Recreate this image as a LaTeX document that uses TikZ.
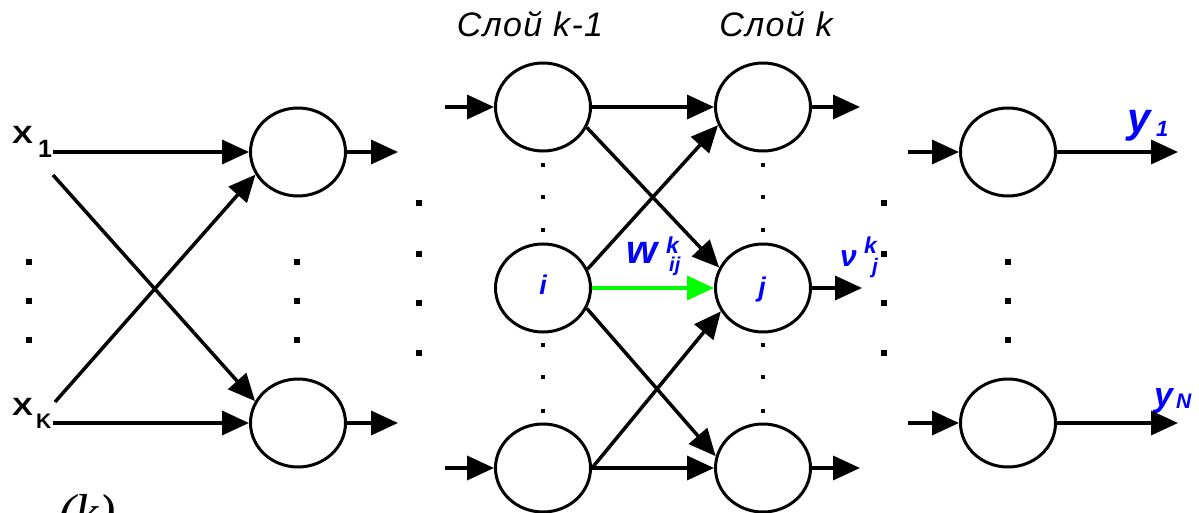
\documentclass[tikz,border=0pt]{standalone}
\usepackage{fontspec}
\setmainfont{Liberation Sans}
\newfontfamily\serifit{Liberation Serif}
\usetikzlibrary{arrows.meta,shapes.geometric}
\definecolor{lgreen}{RGB}{0,255,0}
\definecolor{lblue}{RGB}{0,0,255}
\begin{document}
\begin{tikzpicture}[x=1pt,y=-1pt,
  neuron/.style={ellipse,draw,line width=3pt,minimum width=95pt,minimum height=88pt,inner sep=0pt},
  conn/.style={line width=3.5pt,-{Triangle[length=27pt,width=24pt]}},
  bigdot/.style={fill=black,minimum size=6pt,inner sep=0pt},
  smalldot/.style={fill=black,minimum size=3.5pt,inner sep=0pt},
  lbl/.style={inner sep=0pt,text=lblue},
  blk/.style={inner sep=0pt}
]
\useasboundingbox (0,0) rectangle (1199,513);
% neurons
\node[neuron] (a1) at (298,152) {};
\node[neuron] (a2) at (298,423) {};
\node[neuron] (p1) at (543,107) {};
\node[neuron] (p2) at (543,288) {};
\node[neuron] (p3) at (543,468) {};
\node[neuron] (q1) at (763,107) {};
\node[neuron] (q2) at (763,288) {};
\node[neuron] (q3) at (763,468) {};
\node[neuron] (r1) at (1008,152) {};
\node[neuron] (r2) at (1008,423) {};
% labels
\node[blk,anchor=base] (t1) at (530,37) {\fontsize{34}{34}\selectfont\itshape\addfontfeature{LetterSpace=4} Слой k-1};
\node[blk,anchor=base] (t2) at (776,37) {\fontsize{34}{34}\selectfont\itshape\addfontfeature{LetterSpace=4} Слой k};
\node[blk,anchor=base west] (xa) at (12,144) {\fontsize{25}{25}\selectfont\bfseries\scalebox{1.25}[1]{X}\hspace{5pt}\raisebox{-14pt}{1}};
\node[blk,anchor=base west] (xb) at (12,415) {\fontsize{25}{25}\selectfont\bfseries\scalebox{1.25}[1]{X}\hspace{3pt}\raisebox{-13pt}{\fontsize{21}{21}\selectfont K}};
\node[lbl,anchor=base] (li) at (543,294) {\fontsize{27}{27}\selectfont\bfseries\itshape i};
\node[lbl,anchor=base] (lj) at (762,296) {\fontsize{27}{27}\selectfont\bfseries\itshape j};
\node[lbl,anchor=base west] (lw) at (626,263) {\fontsize{40}{40}\selectfont\bfseries\itshape w};
\node[lbl,anchor=base west] (lwk) at (666,253) {\fontsize{23}{23}\selectfont\bfseries\itshape k};
\node[lbl,anchor=base west] (lwij) at (669,271) {\fontsize{20}{20}\selectfont\bfseries\itshape ij};
\node[lbl,anchor=base west] (lv) at (840,266) {\fontsize{30}{30}\selectfont\bfseries\itshape ν};
\node[lbl,anchor=base west] (lvk) at (864,253) {\fontsize{23}{23}\selectfont\bfseries\itshape k};
\node[lbl,anchor=base west] (lvj) at (872,273) {\fontsize{21}{21}\selectfont\bfseries\itshape j};
\node[lbl,anchor=base west] (ly1) at (1127,133) {\fontsize{42}{42}\selectfont\bfseries\itshape y};
\node[lbl,anchor=base west] (ly1s) at (1156,137) {\fontsize{22}{22}\selectfont\bfseries\itshape 1};
\node[lbl,anchor=base west] (lyn) at (1154,406) {\fontsize{34}{34}\selectfont\bfseries\itshape y};
\node[lbl,anchor=base west] (lyns) at (1176,408) {\fontsize{21}{21}\selectfont\bfseries\itshape N};
\node[blk,anchor=north west] (kk) at (58,494) {\fontsize{52}{52}\selectfont\serifit\itshape (k)};
% free ends
\coordinate (x1e) at (53,152);
\coordinate (x1d) at (53,175);
\coordinate (xke) at (53,423);
\coordinate (xkd) at (55,402);
\coordinate (a1o) at (398,152);
\coordinate (a2o) at (398,423);
\coordinate (p1i) at (445,107);
\coordinate (p3i) at (445,468);
\coordinate (q1o) at (860,107);
\coordinate (q2o) at (862,288);
\coordinate (q3o) at (860,468);
\coordinate (r1i) at (908,152);
\coordinate (r2i) at (908,423);
\coordinate (r1o) at (1178,152);
\coordinate (r2o) at (1178,423);
% connectors
\draw[conn] (x1e) -- (a1.west);
\draw[conn] (xke) -- (a2.west);
\draw[conn] (x1d) -- (a2.153);
\draw[conn] (xkd) -- (a1.208);
\draw[conn] (a1) -- (a1o);
\draw[conn] (a2) -- (a2o);
\draw[conn] (p1i) -- (p1);
\draw[conn] (p3i) -- (p3);
\draw[conn] (p1) -- (q1);
\draw[conn] (p3) -- (q3);
\draw[conn] (p1.335) -- (q2.155);
\draw[conn] (p2.23) -- (q1.202);
\draw[conn] (p2.335) -- (q3.166);
\draw[conn] (p3.east) -- (q2.209);
\draw[conn,draw=lgreen,fill=lgreen] (p2) -- (q2);
\draw[conn] (q1) -- (q1o);
\draw[conn] (q2) -- (q2o);
\draw[conn] (q3) -- (q3o);
\draw[conn] (r1i) -- (r1);
\draw[conn] (r2i) -- (r2);
\draw[conn] (r1) -- (r1o);
\draw[conn] (r2) -- (r2o);
% dots
\foreach \yy [count=\n] in {262,301,340} {
  \node[bigdot] (dl\n) at (29,\yy) {};
  \node[bigdot] (da\n) at (297,\yy) {};
  \node[bigdot] (dr\n) at (1008,\yy) {};
}
\foreach \yy [count=\n] in {203,254,303,353} {
  \node[bigdot] (dm\n) at (419,\yy) {};
  \node[bigdot] (dn\n) at (884,\yy) {};
}
\foreach \yy [count=\n] in {165,197,230,345,377,411} {
  \node[smalldot] (dp\n) at (543,\yy) {};
  \node[smalldot] (dq\n) at (763,\yy) {};
}
\end{tikzpicture}
\end{document}
